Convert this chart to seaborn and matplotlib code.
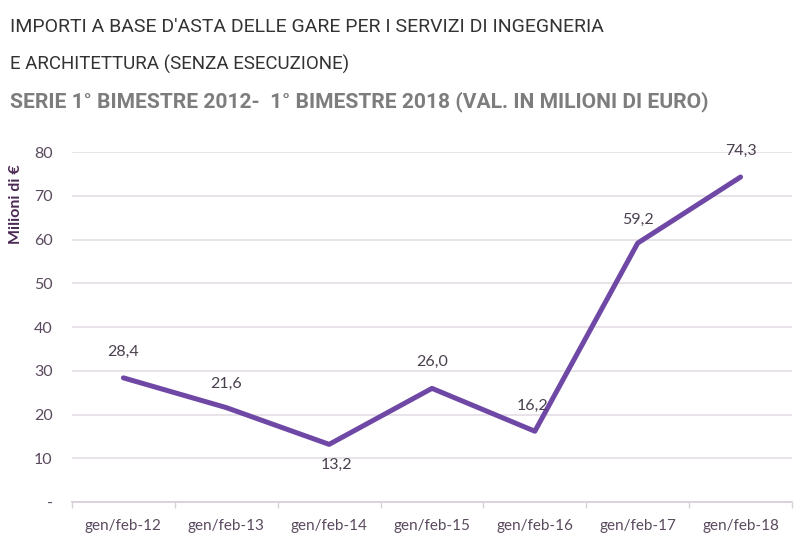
import numpy as np
import seaborn as sns
import matplotlib as mpl
import matplotlib.pyplot as plt
import pandas as pd

periods = ['gen/feb-12', 'gen/feb-13', 'gen/feb-14', 'gen/feb-15',
           'gen/feb-16', 'gen/feb-17', 'gen/feb-18']
values = [28.4, 21.6, 13.2, 26.0, 16.2, 59.2, 74.3]
value_labels = ['28,4', '21,6', '13,2', '26,0', '16,2', '59,2', '74,3']
y_ticks = [0, 10, 20, 30, 40, 50, 60, 70, 80]
y_tick_labels = ['-', '10', '20', '30', '40', '50', '60', '70', '80']

sns.set_theme(style="whitegrid")
plt.rcParams['font.family'] = ['Lato', 'DejaVu Sans']

df = pd.DataFrame({'periodo': periods, 'valore': values})
df['pos'] = np.arange(len(periods))

fig = plt.figure(figsize=(8, 5.53), dpi=100)
ax = fig.add_axes([0.09, 0.092, 0.9, 0.633])

sns.lineplot(data=df, x='pos', y='valore', ax=ax, color='#6f48a6',
             linewidth=3.6, solid_joinstyle='round', solid_capstyle='round')

ax.set_xlim(-0.5, 6.5)
ax.set_ylim(0, 80)
ax.set_xticks(df['pos'])
ax.set_xticklabels(periods, fontsize=11, color='#5a4a5e')
ax.set_xticks(np.arange(-0.5, 7, 1), minor=True)
ax.set_yticks(y_ticks)
ax.set_yticklabels(y_tick_labels, fontsize=11.5, color='#5a4a5e')
ax.grid(axis='x', visible=False)
ax.grid(axis='y', which='major', color='#e6e0e6', linewidth=1.3)
for s in ['top', 'right', 'left']:
    ax.spines[s].set_visible(False)
ax.spines['bottom'].set_color('#d8d0d8')
ax.spines['bottom'].set_linewidth(1.3)
ax.tick_params(axis='y', length=0, pad=14)
ax.tick_params(axis='x', which='major', length=0, pad=12)
ax.tick_params(axis='x', which='minor', length=4, color='#d8d0d8', direction='out',
               bottom=True)
ax.set_xlabel('')
ax.set_ylabel('Milioni di €', fontsize=11.5, fontweight='bold', color='#4a2a55',
              labelpad=0)
ax.yaxis.set_label_coords(-0.068, 0.85)

# offsets for the value labels (points)
offsets = [(0, 19), (0, 17), (5, -15), (0, 19), (-2, 18), (0, 17), (0, 19)]
for i, (v, lab) in enumerate(zip(values, value_labels)):
    dx, dy = offsets[i]
    ax.annotate(lab, (i, v), xytext=(dx, dy), textcoords='offset points',
                ha='center', va='center', fontsize=11.5, color='#4a3f4e')

title_font = dict(family=['Roboto', 'DejaVu Sans'])
t1 = fig.text(0.012, 0.951, "IMPORTI A BASE D'ASTA DELLE GARE PER I SERVIZI DI INGEGNERIA",
              fontsize=17, color='#333333', va='center', **title_font)
t2 = fig.text(0.012, 0.884, "E ARCHITETTURA (SENZA ESECUZIONE)",
              fontsize=17, color='#333333', va='center', **title_font)
t3 = fig.text(0.012, 0.816, "SERIE 1° BIMESTRE 2012-  1° BIMESTRE 2018 (VAL. IN MILIONI DI EURO)",
              fontsize=14, color='#7d7d7d', fontweight='bold', va='center', **title_font)

# shrink the heading lines so they end where the reference ones do
fig.canvas.draw()
r = fig.canvas.get_renderer()
for t, target in [(t1, 598), (t2, 342), (t3, 698)]:
    w = t.get_window_extent(r).width
    t.set_fontsize(t.get_fontsize() * target / w)

fig.savefig('out.png', dpi=100, facecolor='white')
